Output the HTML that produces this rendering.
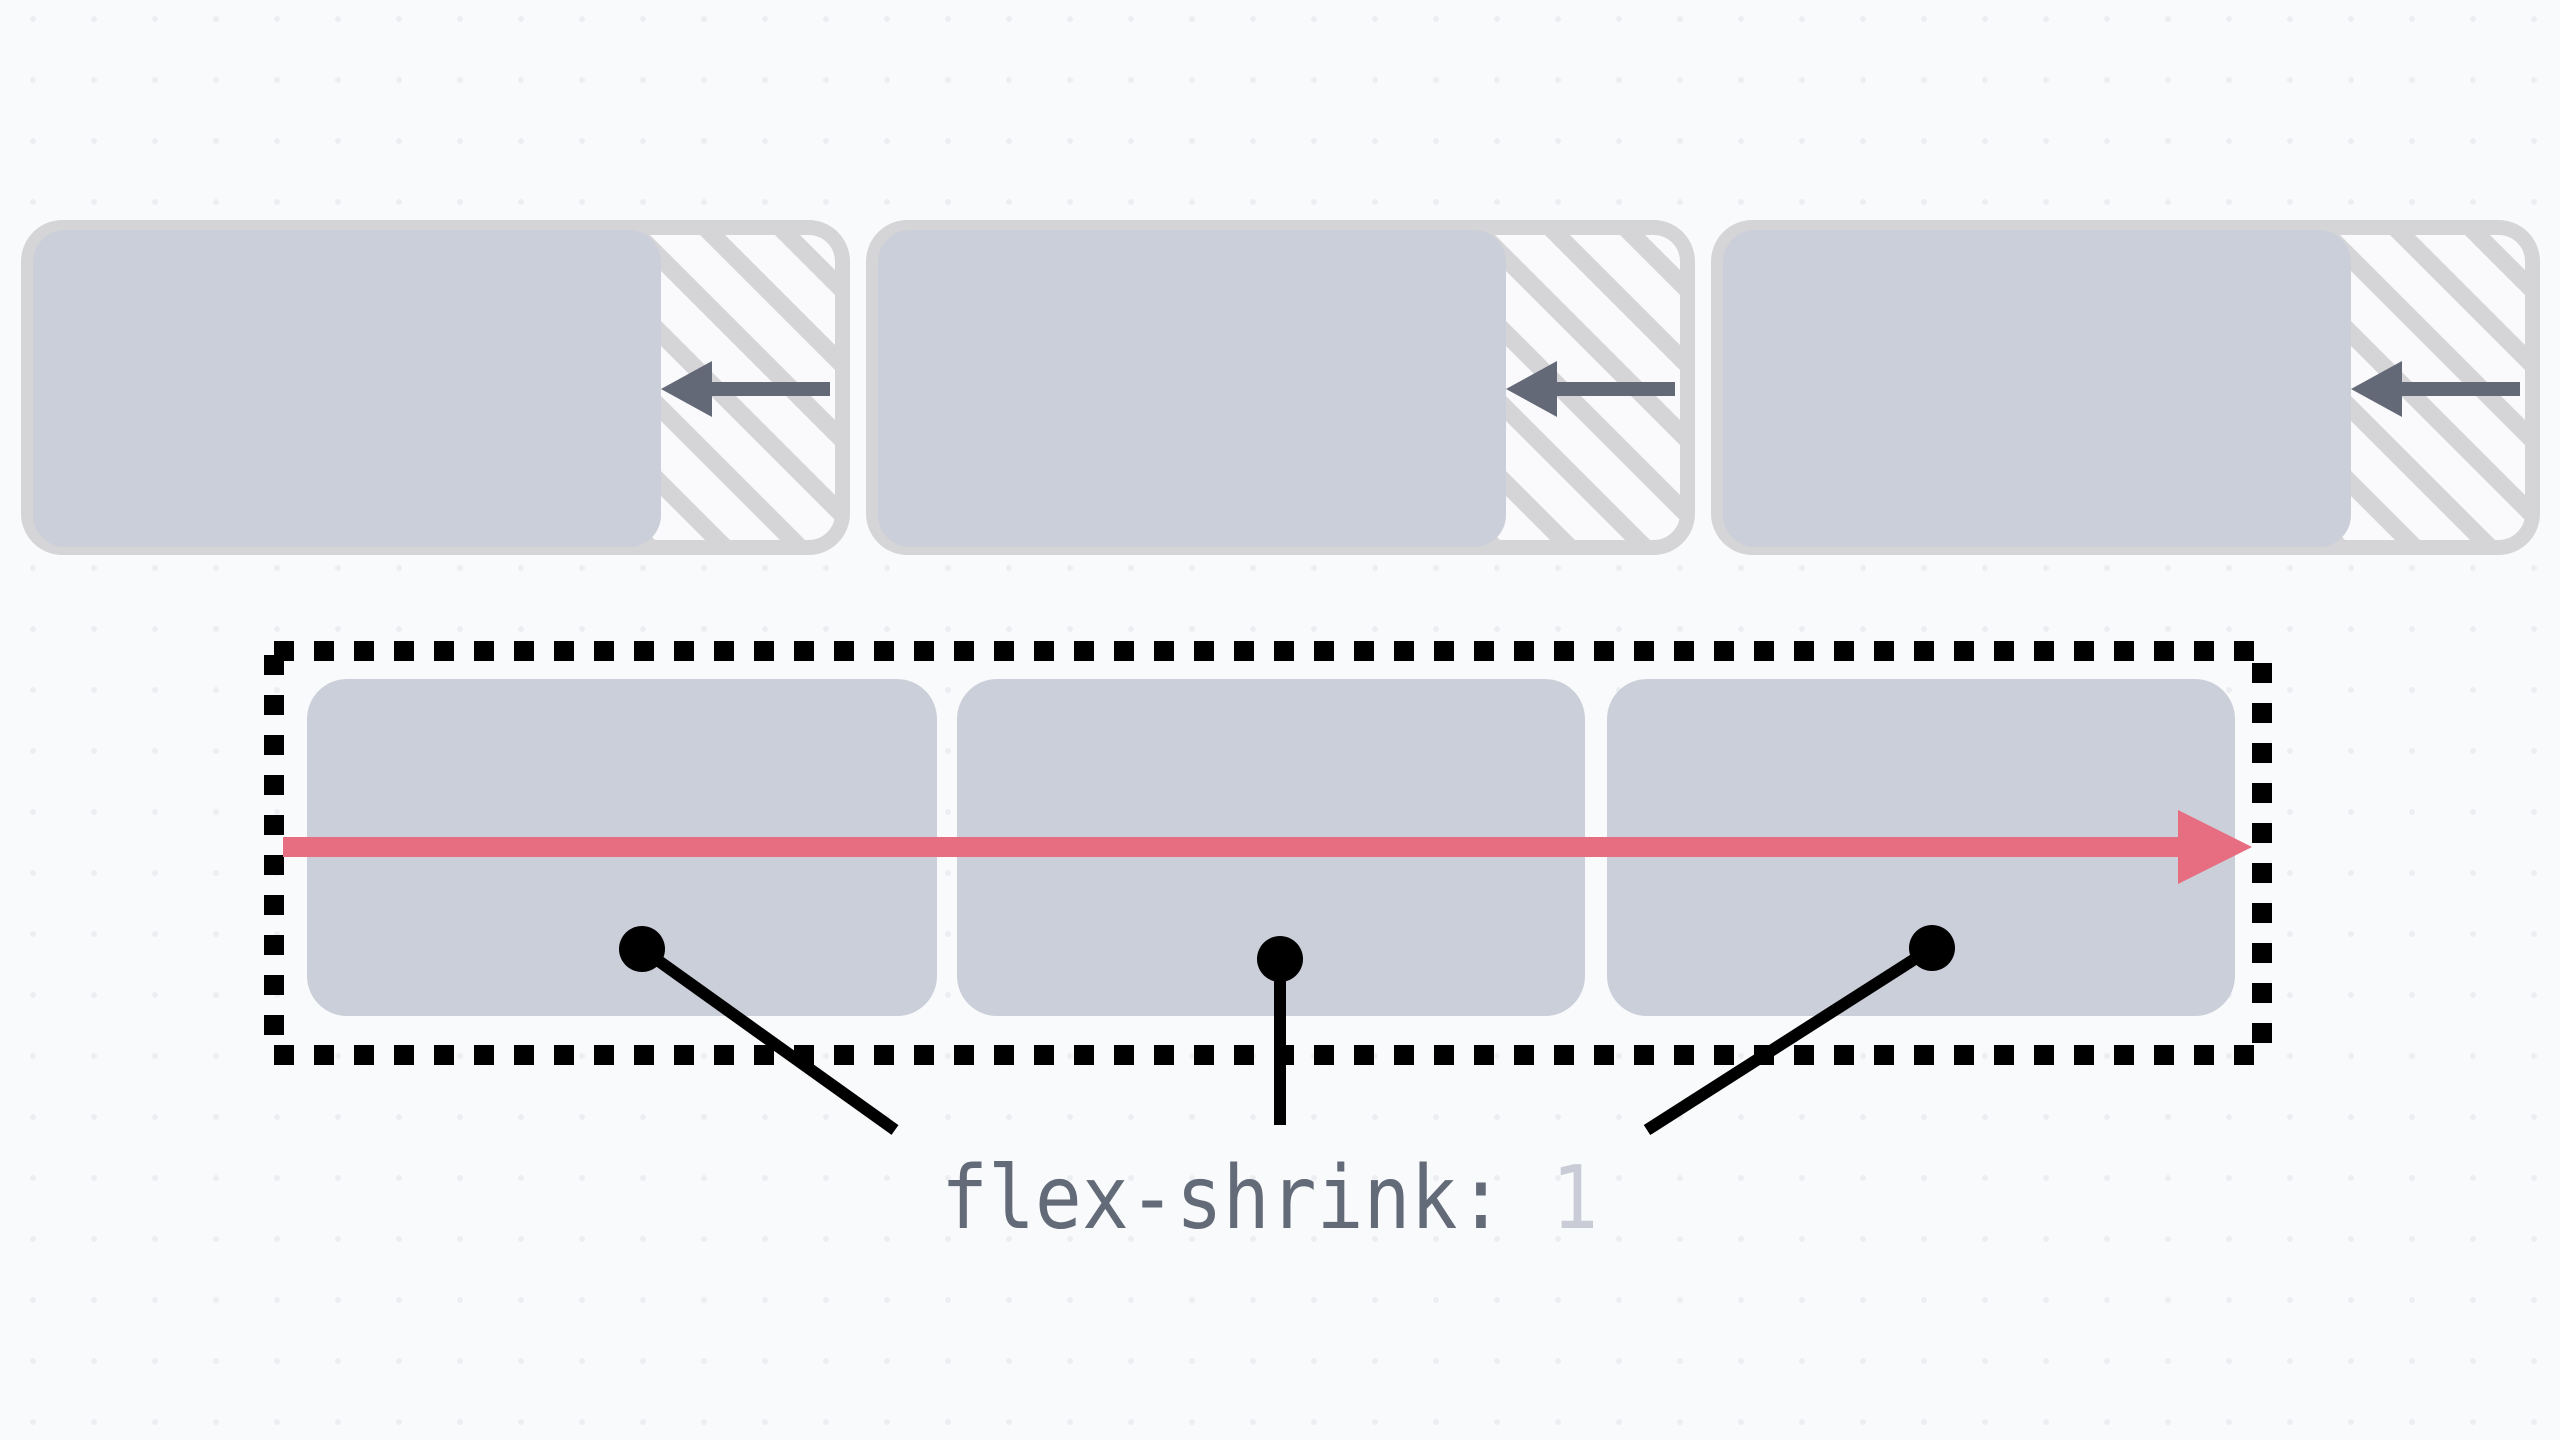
<!DOCTYPE html>
<html><head><meta charset="utf-8"><style>
html,body{margin:0;padding:0;width:2560px;height:1440px;overflow:hidden;background:#f9fafc}
</style></head><body>
<svg width="2560" height="1440" viewBox="0 0 2560 1440" xmlns="http://www.w3.org/2000/svg">
<defs>
<pattern id="grid" x="33" y="19" width="61" height="61" patternUnits="userSpaceOnUse">
<circle cx="0" cy="0" r="3" fill="#eceef2"/><circle cx="61" cy="0" r="3" fill="#eceef2"/><circle cx="0" cy="61" r="3" fill="#eceef2"/><circle cx="61" cy="61" r="3" fill="#eceef2"/>
</pattern>
<pattern id="hatch" x="700" y="235" width="75" height="75" patternUnits="userSpaceOnUse">
<polygon points="0,0 25,0 100,75 75,75" fill="#d5d5d8"/>
<polygon points="-75,0 -50,0 25,75 0,75" fill="#d5d5d8"/>
</pattern>
</defs>
<rect width="2560" height="1440" fill="#f9fafc"/>
<rect width="2560" height="1440" fill="url(#grid)"/>

<g>
<rect x="28.5" y="227.5" width="814" height="320" rx="34" fill="#fafafc"/>
<rect x="28.5" y="227.5" width="814" height="320" rx="34" fill="url(#hatch)"/>
<rect x="28.5" y="227.5" width="814" height="320" rx="34" fill="none" stroke="#d5d5d8" stroke-width="15"/>
<rect x="33" y="230" width="628" height="317" rx="32" fill="#cbcfd9"/>
<rect x="712" y="382" width="118" height="14" fill="#646978"/>
<polygon points="661,389 712,361 712,417" fill="#646978"/>
</g>
<g transform="translate(845,0)">
<rect x="28.5" y="227.5" width="814" height="320" rx="34" fill="#fafafc"/>
<rect x="28.5" y="227.5" width="814" height="320" rx="34" fill="url(#hatch)"/>
<rect x="28.5" y="227.5" width="814" height="320" rx="34" fill="none" stroke="#d5d5d8" stroke-width="15"/>
<rect x="33" y="230" width="628" height="317" rx="32" fill="#cbcfd9"/>
<rect x="712" y="382" width="118" height="14" fill="#646978"/>
<polygon points="661,389 712,361 712,417" fill="#646978"/>
</g>
<g transform="translate(1690,0)">
<rect x="28.5" y="227.5" width="814" height="320" rx="34" fill="#fafafc"/>
<rect x="28.5" y="227.5" width="814" height="320" rx="34" fill="url(#hatch)"/>
<rect x="28.5" y="227.5" width="814" height="320" rx="34" fill="none" stroke="#d5d5d8" stroke-width="15"/>
<rect x="33" y="230" width="628" height="317" rx="32" fill="#cbcfd9"/>
<rect x="712" y="382" width="118" height="14" fill="#646978"/>
<polygon points="661,389 712,361 712,417" fill="#646978"/>
</g>

<rect x="307" y="679" width="630" height="337" rx="40" fill="#cbcfd9"/>
<rect x="957" y="679" width="628" height="337" rx="40" fill="#cbcfd9"/>
<rect x="1607" y="679" width="628" height="337" rx="40" fill="#cbcfd9"/>

<rect x="274" y="651" width="1988" height="404" fill="none" stroke="#000" stroke-width="20" stroke-dasharray="20 20"/>

<rect x="283" y="837" width="1897" height="20" fill="#e76d80"/>
<polygon points="2178,810 2252,847 2178,884" fill="#e76d80"/>

<g stroke="#000" stroke-width="12">
<line x1="642" y1="949" x2="895" y2="1130"/>
<line x1="1280" y1="959" x2="1280" y2="1125"/>
<line x1="1932" y1="948" x2="1647" y2="1130"/>
</g>
<circle cx="642" cy="949" r="23" fill="#000"/>
<circle cx="1280" cy="959" r="23" fill="#000"/>
<circle cx="1932" cy="948" r="23" fill="#000"/>

<text transform="translate(941,1228) scale(1,1.12)" x="0" y="0" font-family="DejaVu Sans Mono, Liberation Mono, monospace" font-size="78" fill="#636a78">flex-shrink: <tspan fill="#c9ccd6">1</tspan></text>
</svg>
</body></html>
